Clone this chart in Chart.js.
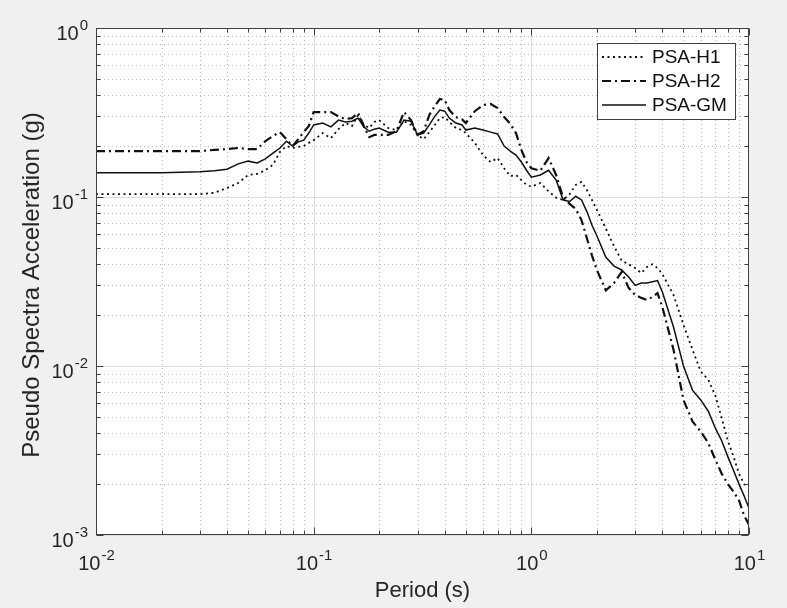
<!DOCTYPE html>
<html>
<head>
<meta charset="utf-8">
<script src="https://cdn.jsdelivr.net/npm/chart.js@4.4.1/dist/chart.umd.min.js"></script>
<style>
  html, body { margin: 0; padding: 0; background: #f0f0f0; }
  #wrap { width: 787px; height: 608px; position: relative; }
</style>
</head>
<body>
<div id="wrap"><canvas id="chart"></canvas></div>
<script>
// periods (s) shared by all three spectra
const periods = [0.01, 0.02, 0.03, 0.035, 0.04, 0.045, 0.05, 0.055, 0.06, 0.065, 0.07, 0.075, 0.08, 0.085, 0.09, 0.095,
  0.1, 0.11, 0.12, 0.13, 0.14, 0.15, 0.16, 0.17, 0.18, 0.19, 0.2, 0.22, 0.24, 0.26, 0.28, 0.3, 0.32, 0.34, 0.36, 0.38,
  0.4, 0.42, 0.45, 0.48, 0.5, 0.55, 0.6, 0.65, 0.7, 0.75, 0.8, 0.85, 0.9, 0.95, 1.0, 1.1, 1.2, 1.3, 1.4, 1.5, 1.6, 1.7,
  1.8, 1.9, 2.0, 2.2, 2.4, 2.6, 2.8, 3.0, 3.2, 3.4, 3.6, 3.8, 4.0, 4.5, 5.0, 5.5, 6.0, 6.5, 7.0, 7.5, 8.0, 8.5, 9.0, 9.5, 10];

const psaH1 = [0.104, 0.104, 0.104, 0.106, 0.113, 0.121, 0.135, 0.137, 0.144, 0.155, 0.185, 0.200, 0.195, 0.198, 0.200, 0.209,
  0.217, 0.239, 0.223, 0.252, 0.274, 0.263, 0.306, 0.267, 0.256, 0.278, 0.285, 0.256, 0.249, 0.281, 0.267, 0.233, 0.220, 0.242, 0.267, 0.293,
  0.297, 0.278, 0.256, 0.249, 0.239, 0.209, 0.177, 0.161, 0.170, 0.148, 0.133, 0.135, 0.126, 0.118, 0.115, 0.121, 0.108, 0.099, 0.096, 0.104, 0.118, 0.123,
  0.110, 0.096, 0.084, 0.065, 0.051, 0.042, 0.040, 0.038, 0.0355, 0.0385, 0.040, 0.038, 0.035, 0.0263, 0.0175, 0.0125, 0.0093, 0.0083, 0.0067, 0.0049, 0.0036, 0.0029, 0.0023, 0.0020, 0.0019];

const psaH2 = [0.187, 0.187, 0.187, 0.190, 0.192, 0.195, 0.192, 0.192, 0.214, 0.230, 0.242, 0.220, 0.200, 0.220, 0.242, 0.263,
  0.318, 0.318, 0.318, 0.300, 0.289, 0.293, 0.314, 0.263, 0.226, 0.233, 0.233, 0.233, 0.245, 0.318, 0.285, 0.233, 0.245, 0.306, 0.345, 0.380,
  0.375, 0.327, 0.297, 0.289, 0.274, 0.322, 0.350, 0.355, 0.336, 0.297, 0.271, 0.239, 0.190, 0.161, 0.148, 0.143, 0.170, 0.135, 0.099, 0.091, 0.085, 0.073,
  0.057, 0.045, 0.037, 0.028, 0.031, 0.036, 0.029, 0.0263, 0.0253, 0.0246, 0.0256, 0.027, 0.0223, 0.0125, 0.0063, 0.0047, 0.0041, 0.0035, 0.0028, 0.0023, 0.0020, 0.0018, 0.0016, 0.0013, 0.00115];

const psaGM = [0.139, 0.139, 0.141, 0.143, 0.146, 0.157, 0.163, 0.159, 0.168, 0.182, 0.195, 0.214, 0.200, 0.212, 0.217, 0.239,
  0.267, 0.274, 0.260, 0.285, 0.278, 0.281, 0.293, 0.260, 0.245, 0.252, 0.256, 0.242, 0.242, 0.285, 0.281, 0.233, 0.239, 0.267, 0.300, 0.327,
  0.322, 0.293, 0.274, 0.267, 0.249, 0.256, 0.249, 0.242, 0.236, 0.200, 0.187, 0.177, 0.161, 0.144, 0.131, 0.135, 0.144, 0.126, 0.096, 0.094, 0.101, 0.096,
  0.082, 0.068, 0.059, 0.044, 0.039, 0.037, 0.0336, 0.030, 0.031, 0.031, 0.0315, 0.032, 0.0274, 0.0170, 0.0100, 0.0072, 0.0063, 0.0054, 0.0043, 0.0036, 0.0029, 0.0024, 0.0020, 0.0017, 0.00144];

const seriesLabels = ['PSA-H1', 'PSA-H2', 'PSA-GM'];
const xTickExps = [-2, -1, 0, 1];
const yTickExps = [-3, -2, -1, 0];
const xTitle = 'Period (s)';
const yTitle = 'Pseudo Spectra Acceleration (g)';

const FONT = "'Liberation Sans', Arial, Helvetica, sans-serif";
const INK = '#111';

function pts(vals) {
  return periods.map((p, i) => ({ x: p, y: vals[i] }));
}

// 10^n label with a raised exponent
function drawPow(ctx, exp, x, y, align) {
  ctx.font = '20px ' + FONT;
  const wBase = ctx.measureText('10').width;
  ctx.font = '15px ' + FONT;
  const wExp = ctx.measureText(String(exp)).width;
  let x0 = align === 'center' ? x - (wBase + wExp) / 2 : x - wBase - wExp;
  ctx.textAlign = 'left';
  ctx.textBaseline = 'alphabetic';
  ctx.font = '20px ' + FONT;
  ctx.fillText('10', x0, y);
  ctx.font = '15px ' + FONT;
  ctx.fillText(String(exp), x0 + wBase + 1, y - 10);
}

const matlabAxes = {
  id: 'matlabAxes',
  beforeDraw(chart) {
    const { ctx, chartArea: a } = chart;
    ctx.save();
    ctx.fillStyle = '#f0f0f0';
    ctx.fillRect(0, 0, chart.width, chart.height);
    ctx.fillStyle = '#fff';
    ctx.fillRect(a.left, a.top, a.right - a.left, a.bottom - a.top);
    ctx.restore();
  },
  beforeDatasetsDraw(chart) {
    const { ctx, chartArea: a, scales: { x, y } } = chart;
    ctx.save();
    ctx.lineWidth = 1;
    const lines = (scale, exps, vertical) => {
      for (let n = exps[0]; n < exps[exps.length - 1]; n++) {
        for (let k = 1; k <= 9; k++) {
          const v = k * Math.pow(10, n);
          const p = Math.round(scale.getPixelForValue(v)) + 0.5;
          if (k === 1) { ctx.setLineDash([]); ctx.strokeStyle = '#dedede'; }
          else { ctx.setLineDash([1, 3]); ctx.strokeStyle = '#bdbdbd'; }
          ctx.beginPath();
          if (vertical) { ctx.moveTo(p, a.top); ctx.lineTo(p, a.bottom); }
          else { ctx.moveTo(a.left, p); ctx.lineTo(a.right, p); }
          ctx.stroke();
        }
      }
    };
    lines(x, xTickExps, true);
    lines(y, yTickExps, false);
    ctx.restore();
  },
  afterDatasetsDraw(chart) {
    const { ctx, chartArea: a, scales: { x, y } } = chart;
    ctx.save();
    ctx.setLineDash([]);
    ctx.strokeStyle = '#404040';
    ctx.lineWidth = 1;
    const L = Math.round(a.left) + 0.5, R = Math.round(a.right) - 0.5;
    const T = Math.round(a.top) + 0.5, B = Math.round(a.bottom) - 0.5;
    ctx.strokeRect(L, T, R - L, B - T);

    // inward tick marks on all four sides
    ctx.beginPath();
    for (let n = xTickExps[0]; n <= xTickExps[xTickExps.length - 1]; n++) {
      for (let k = 1; k <= 9; k++) {
        const v = k * Math.pow(10, n);
        if (v > 10.0001) break;
        const p = Math.round(x.getPixelForValue(v)) + 0.5;
        const len = k === 1 ? 7 : 4;
        ctx.moveTo(p, B); ctx.lineTo(p, B - len);
        ctx.moveTo(p, T); ctx.lineTo(p, T + len);
      }
    }
    for (let n = yTickExps[0]; n <= yTickExps[yTickExps.length - 1]; n++) {
      for (let k = 1; k <= 9; k++) {
        const v = k * Math.pow(10, n);
        if (v > 1.0001) break;
        const p = Math.round(y.getPixelForValue(v)) + 0.5;
        const len = k === 1 ? 7 : 4;
        ctx.moveTo(L, p); ctx.lineTo(L + len, p);
        ctx.moveTo(R, p); ctx.lineTo(R - len, p);
      }
    }
    ctx.stroke();

    // tick labels
    ctx.fillStyle = '#262626';
    xTickExps.forEach(e => drawPow(ctx, e, x.getPixelForValue(Math.pow(10, e)), a.bottom + 35, 'center'));
    yTickExps.forEach(e => drawPow(ctx, e, a.left - 9, y.getPixelForValue(Math.pow(10, e)) + 12, 'right'));

    // axis titles
    ctx.textAlign = 'center';
    ctx.textBaseline = 'alphabetic';
    ctx.font = '22px ' + FONT;
    ctx.fillText(xTitle, (a.left + a.right) / 2, 597);
    ctx.save();
    ctx.font = '24px ' + FONT;
    ctx.translate(39, 285);
    ctx.rotate(-Math.PI / 2);
    ctx.fillText(yTitle, 0, 0);
    ctx.restore();

    // legend box
    const bx = 597, by = 43, bw = 138, bh = 76;
    ctx.fillStyle = '#fff';
    ctx.fillRect(bx, by, bw, bh);
    ctx.strokeStyle = '#404040';
    ctx.strokeRect(bx + 0.5, by + 0.5, bw, bh);
    chart.data.datasets.forEach((ds, i) => {
      const ly = by + 14 + i * 24;
      ctx.strokeStyle = ds.borderColor;
      ctx.lineWidth = ds.borderWidth;
      ctx.setLineDash(ds.borderDash || []);
      ctx.beginPath();
      ctx.moveTo(bx + 5, ly);
      ctx.lineTo(bx + 49, ly);
      ctx.stroke();
      ctx.setLineDash([]);
      ctx.fillStyle = '#111';
      ctx.font = '19px ' + FONT;
      ctx.textAlign = 'left';
      ctx.textBaseline = 'middle';
      ctx.fillText(ds.label, bx + 55, ly + 1);
    });
    ctx.restore();
  }
};

new Chart(document.getElementById('chart'), {
  type: 'line',
  data: {
    datasets: [
      { label: seriesLabels[0], data: pts(psaH1), borderColor: INK, borderWidth: 1.8, borderDash: [2, 3.5] },
      { label: seriesLabels[1], data: pts(psaH2), borderColor: INK, borderWidth: 2.2, borderDash: [9, 4, 2, 4] },
      { label: seriesLabels[2], data: pts(psaGM), borderColor: INK, borderWidth: 1.5 }
    ]
  },
  options: {
    responsive: true,
    maintainAspectRatio: false,
    animation: false,
    layout: { padding: { left: 0, top: 28, right: 38, bottom: 0 } },
    elements: { point: { radius: 0 }, line: { tension: 0, fill: false } },
    plugins: { legend: { display: false }, tooltip: { enabled: false } },
    scales: {
      x: {
        type: 'logarithmic', min: 0.01, max: 10,
        grid: { display: false }, border: { display: false }, ticks: { display: false },
        afterFit(s) { s.height = 73; }
      },
      y: {
        type: 'logarithmic', min: 0.001, max: 1,
        grid: { display: false }, border: { display: false }, ticks: { display: false },
        afterFit(s) { s.width = 96; }
      }
    }
  },
  plugins: [matlabAxes]
});
</script>
</body>
</html>
